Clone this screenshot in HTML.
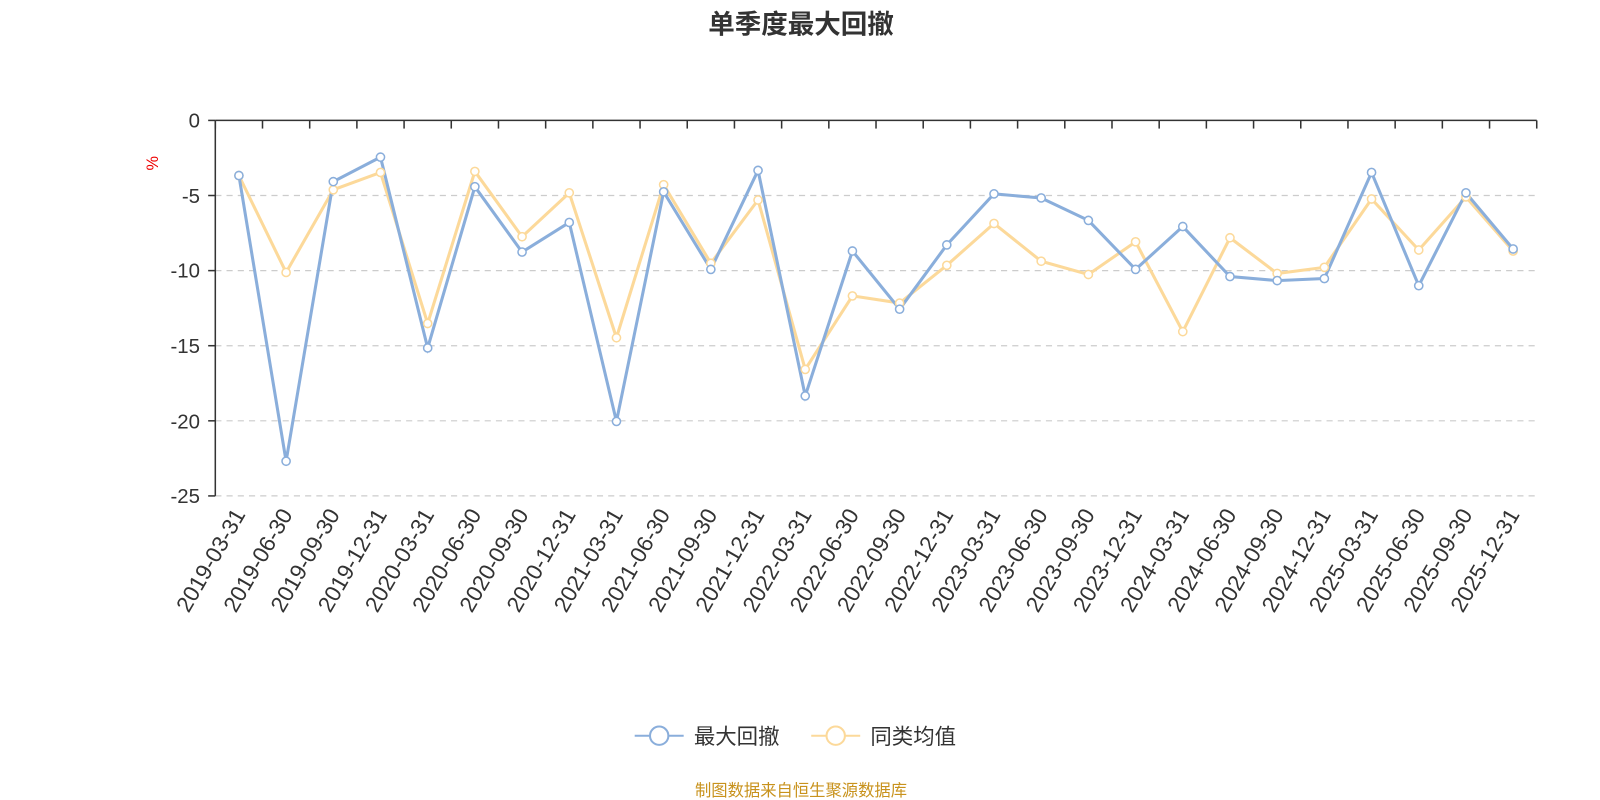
<!DOCTYPE html>
<html><head><meta charset="utf-8"><style>
body{margin:0;background:#fff;}
svg{display:block;}
svg text{font-family:"Liberation Sans","Noto Sans CJK SC",sans-serif;}
</style></head><body>
<svg width="1600" height="800" viewBox="0 0 1568 784" preserveAspectRatio="none" xmlns="http://www.w3.org/2000/svg">
<text x="785" y="33" text-anchor="middle" font-size="26" font-weight="bold" fill="#333">单季度最大回撤</text>
<text x="155" y="160" font-size="16" fill="#e00" transform="rotate(-90 155 160)" text-anchor="middle">%</text>
<g stroke="#ccc" stroke-dasharray="6,5" stroke-width="1.2">
<line x1="211" x2="1506" y1="191.6" y2="191.6"/><line x1="211" x2="1506" y1="265.2" y2="265.2"/>
<line x1="211" x2="1506" y1="338.8" y2="338.8"/><line x1="211" x2="1506" y1="412.4" y2="412.4"/>
<line x1="211" x2="1506" y1="486" y2="486"/>
</g>
<g stroke="#333" stroke-width="1.5">
<line x1="211" x2="1506" y1="118" y2="118"/><line x1="211" x2="211" y1="118" y2="486"/>
<line x1="204" x2="211" y1="118" y2="118"/><line x1="204" x2="211" y1="191.6" y2="191.6"/><line x1="204" x2="211" y1="265.2" y2="265.2"/><line x1="204" x2="211" y1="338.8" y2="338.8"/><line x1="204" x2="211" y1="412.4" y2="412.4"/><line x1="204" x2="211" y1="486" y2="486"/>
</g>
<g font-size="20" fill="#333" text-anchor="end">
<text x="196" y="125">0</text><text x="196" y="199">-5</text><text x="196" y="272">-10</text><text x="196" y="346">-15</text><text x="196" y="420">-20</text><text x="196" y="493">-25</text>
</g>
<g id="ticks" stroke="#333" stroke-width="1.5"></g>
<g id="labels" font-size="22" fill="#333" text-anchor="end"></g>
<polyline id="yl" fill="none" stroke="#fcd99a" stroke-width="3"/>
<polyline id="bl" fill="none" stroke="#8aaedb" stroke-width="3"/>
<g id="yp" fill="#fff" stroke="#fcd99a" stroke-width="1.5"></g>
<g id="bp" fill="#fff" stroke="#8aaedb" stroke-width="1.5"></g>
<line x1="622" x2="670" y1="721" y2="721" stroke="#8aaedb" stroke-width="2"/><circle cx="646" cy="721" r="9" fill="#fff" stroke="#8aaedb" stroke-width="2"/>
<text x="680" y="729" font-size="21" fill="#333">最大回撤</text>
<line x1="795" x2="843" y1="721" y2="721" stroke="#fcd99a" stroke-width="2"/><circle cx="819" cy="721" r="9" fill="#fff" stroke="#fcd99a" stroke-width="2"/>
<text x="853" y="729" font-size="21" fill="#333">同类均值</text>
<text x="785" y="780" text-anchor="middle" font-size="16" fill="#c8921c">制图数据来自恒生聚源数据库</text>
<script>
var ns="http://www.w3.org/2000/svg";
var d=["2019-03-31","2019-06-30","2019-09-30","2019-12-31","2020-03-31","2020-06-30","2020-09-30","2020-12-31","2021-03-31","2021-06-30","2021-09-30","2021-12-31","2022-03-31","2022-06-30","2022-09-30","2022-12-31","2023-03-31","2023-06-30","2023-09-30","2023-12-31","2024-03-31","2024-06-30","2024-09-30","2024-12-31","2025-03-31","2025-06-30","2025-09-30","2025-12-31"];
var b=[172,452,178,154,341,183,247,218,413,188,264,167,388,246,303,240,190,194,216,264,222,271,275,273,169,280,189,244];
var y=[172,267,186,169,317,168,232,189,331,181,258,196,362,290,297,260,219,256,269,237,325,233,268,262,195,245,193,246];
var w=1295/28,T=document.getElementById("ticks"),L=document.getElementById("labels");
for(var i=0;i<=28;i++){var l=document.createElementNS(ns,"line");var x=211+i*w;l.setAttribute("x1",x);l.setAttribute("x2",x);l.setAttribute("y1",118);l.setAttribute("y2",126);T.appendChild(l);}
var pb=[],py=[];
for(var i=0;i<28;i++){var x=211+w/2+i*w;
var t=document.createElementNS(ns,"text");t.setAttribute("transform","translate("+(x+7)+",504) rotate(-60)");t.textContent=d[i];L.appendChild(t);
pb.push(x+","+b[i]);py.push(x+","+y[i]);
[["yp",y[i]],["bp",b[i]]].forEach(function(p){var c=document.createElementNS(ns,"circle");c.setAttribute("cx",x);c.setAttribute("cy",p[1]);c.setAttribute("r",4);document.getElementById(p[0]).appendChild(c);});}
document.getElementById("bl").setAttribute("points",pb.join(" "));
document.getElementById("yl").setAttribute("points",py.join(" "));
</script>
</svg>
</body></html>
